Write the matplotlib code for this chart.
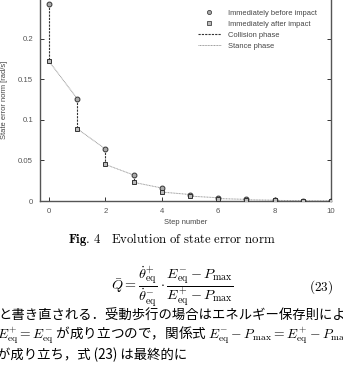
import matplotlib
matplotlib.use('Agg')
import matplotlib.pyplot as plt
import numpy as np
from matplotlib.lines import Line2D

plt.rcParams['mathtext.fontset'] = 'cm'
plt.rcParams['font.family'] = 'Liberation Sans'

steps = np.arange(0, 11)
before_impact = [0.243, 0.126, 0.064, 0.032, 0.016, 0.008, 0.004, 0.002, 0.001, 0.0005, 0.0002]
after_impact = [0.172, 0.089, 0.045, 0.023, 0.011, 0.006, 0.003, 0.0015, 0.0007, 0.0003, 0.0001]
yticks = [0, 0.05, 0.1, 0.15, 0.2, 0.25]
xticks = [0, 2, 4, 6, 8, 10]

fig = plt.figure(figsize=(3.43, 3.65), dpi=100)
ax = fig.add_axes([40 / 343, 164 / 365, 291 / 343, 203 / 365])

# collision phase: before -> after at the same step
for k in steps:
    ax.plot([k, k], [before_impact[k], after_impact[k]], color='#333333', lw=0.8,
            ls=(0, (2, 1)), zorder=2)
# stance phase: after at step k -> before at step k+1
for k in steps[:-1]:
    ax.plot([k, k + 1], [after_impact[k], before_impact[k + 1]], color='#999999', lw=0.7,
            ls=(0, (1, 0.6)), zorder=2)

ax.plot(steps, before_impact, 'o', ms=3.5, mfc='#aaaaaa', mec='#333333', mew=0.7, zorder=3)
ax.plot(steps, after_impact, 's', ms=3.5, mfc='#bbbbbb', mec='#333333', mew=0.7, zorder=3)

ax.set_xlim(-0.32, 10)
ax.set_ylim(0, 0.25)
ax.set_xticks(xticks)
ax.set_xticklabels([str(t) for t in xticks])
ax.set_yticks(yticks)
ax.set_yticklabels(['0', '0.05', '0.1', '0.15', '0.2', '0.25'])
ax.tick_params(direction='in', length=3, width=0.7, labelsize=5.6, labelcolor='#555555',
               color='#333333', right=True, top=False, pad=5)
for s in ax.spines.values():
    s.set_color('#555555')
    s.set_linewidth(1.0)

ax.set_xlabel('Step number', fontsize=5.4, color='#444444', labelpad=3)
ax.set_ylabel('State error norm [rad/s]', fontsize=5.4, color='#444444', labelpad=7)

handles = [
    Line2D([], [], marker='o', ls='none', ms=3, mfc='#aaaaaa', mec='#444444', mew=0.6),
    Line2D([], [], marker='s', ls='none', ms=3, mfc='#bbbbbb', mec='#444444', mew=0.6),
    Line2D([], [], color='#333333', lw=0.8, ls=(0, (2, 1))),
    Line2D([], [], color='#999999', lw=0.7, ls=(0, (1, 0.6))),
]
labels = ['Immediately before impact', 'Immediately after impact', 'Collision phase', 'Stance phase']
leg = ax.legend(handles, labels, loc='upper left', bbox_to_anchor=(0.52, 0.975), frameon=False,
                fontsize=5.4, handlelength=3.0, handletextpad=1.0, labelspacing=0.5,
                labelcolor='#444444')

fig.text(0.5, 1 - 240 / 365, r'$\mathbf{Fig.\,4}\quad\mathrm{Evolution\ of\ state\ error\ norm}$',
         ha='center', va='center', fontsize=9.2)

fig.text(172 / 343, 1 - 287 / 365,
         r'$\bar{Q}=\dfrac{\dot{\theta}^{+}_{\rm eq}}{\dot{\theta}^{-}_{\rm eq}}\cdot'
         r'\dfrac{E^{-}_{\rm eq}-P_{\rm max}}{E^{+}_{\rm eq}-P_{\rm max}}$',
         ha='center', va='center', fontsize=10.2)
fig.text(333 / 343, 1 - 287 / 365, r'$\mathrm{(23)}$', ha='right', va='center', fontsize=9.5)

jp = ['Noto Sans CJK JP', 'DejaVu Sans']
fig.text(-2 / 343, 1 - 316 / 365, 'と書き直される．受動歩行の場合はエネルギー保存則により',
         ha='left', va='center', fontsize=9.6, family=jp)
fig.text(-3 / 343, 1 - 335 / 365,
         r'$E^{+}_{\rm eq}=E^{-}_{\rm eq}$ が成り立つので，関係式 '
         r'$E^{-}_{\rm eq}-P_{\rm max}=E^{+}_{\rm eq}-P_{\rm max}$',
         ha='left', va='center', fontsize=9.8, family=jp)
fig.text(-3 / 343, 1 - 355 / 365, 'が成り立ち，式 (23) は最終的に',
         ha='left', va='center', fontsize=9.6, family=jp)

fig.savefig('out.png', dpi=100)
